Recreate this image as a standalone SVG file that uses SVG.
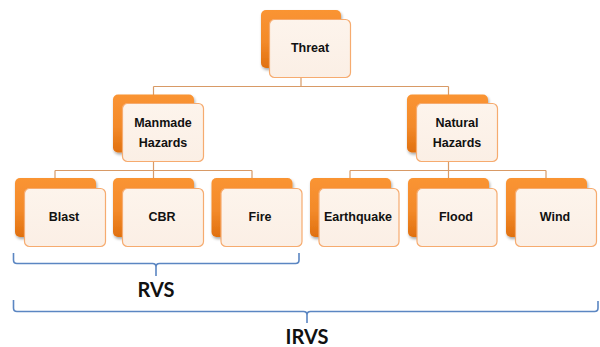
<svg xmlns="http://www.w3.org/2000/svg" width="600" height="347" viewBox="0 0 600 347">
<defs>
<linearGradient id="og" x1="0" y1="0" x2="0" y2="1">
<stop offset="0" stop-color="#fa9433"/>
<stop offset="0.55" stop-color="#f38a2a"/>
<stop offset="1" stop-color="#e0700f"/>
</linearGradient>
<linearGradient id="fg" x1="0" y1="0" x2="0" y2="1">
<stop offset="0" stop-color="#fdf4ec"/>
<stop offset="1" stop-color="#fbefe5"/>
</linearGradient>
<filter id="sh" x="-20%" y="-20%" width="150%" height="150%">
<feGaussianBlur in="SourceAlpha" stdDeviation="1.5"/>
<feOffset dx="1" dy="2" result="b"/>
<feComponentTransfer><feFuncA type="linear" slope="0.35"/></feComponentTransfer>
<feMerge><feMergeNode/><feMergeNode in="SourceGraphic"/></feMerge>
</filter>
</defs>
<style>
.back{fill:url(#og);filter:url(#sh)}
.front{fill:url(#fg);stroke:#f6ab6f;stroke-width:1.2}
.lbl{font-family:"Liberation Sans",Arial,sans-serif;font-weight:bold;font-size:12.5px;fill:#111;text-anchor:middle}
.con{fill:none;stroke:#d89a66;stroke-width:1.2}
.br{fill:none;stroke:#5b86c2;stroke-width:1.6;stroke-linejoin:round}
.big{font-family:Lato,"Liberation Sans",sans-serif;font-weight:bold;font-size:20px;fill:#111;text-anchor:middle}
</style>
<g id="connectors">
<path class="con" d="M301 77V86.5M153.5 86.5H448.5M153.5 86.5V103M448.5 86.5V103"/>
<path class="con" d="M153.5 162V170.5M55 170.5H252M55 170.5V178M153.5 170.5V178M252 170.5V178"/>
<path class="con" d="M448.5 162V170.5M350 170.5H546M350 170.5V178M448.5 170.5V178M546 170.5V178"/>
</g>
<g id="threat">
<rect class="back" x="261" y="10" width="80" height="58" rx="5"/>
<rect class="front" x="269.5" y="19.5" width="81" height="58" rx="5"/>
<text class="lbl" x="310" y="52">Threat</text>
</g>
<g id="manmade">
<rect class="back" x="113" y="94.5" width="81" height="58" rx="5"/>
<rect class="front" x="122.5" y="103.5" width="81" height="58" rx="5"/>
<text class="lbl" x="163" y="127">Manmade</text>
<text class="lbl" x="163" y="147">Hazards</text>
</g>
<g id="natural">
<rect class="back" x="407" y="94.5" width="81" height="58" rx="5"/>
<rect class="front" x="416.5" y="103.5" width="81" height="58" rx="5"/>
<text class="lbl" x="457" y="127">Natural</text>
<text class="lbl" x="457" y="147">Hazards</text>
</g>
<g id="blast">
<rect class="back" x="15" y="178" width="81" height="59" rx="5"/>
<rect class="front" x="24.5" y="188.5" width="81" height="58" rx="5"/>
<text class="lbl" x="64" y="221">Blast</text>
</g>
<g id="cbr">
<rect class="back" x="113" y="178" width="81" height="59" rx="5"/>
<rect class="front" x="122.5" y="188.5" width="81" height="58" rx="5"/>
<text class="lbl" x="162" y="221">CBR</text>
</g>
<g id="fire">
<rect class="back" x="211.5" y="178" width="81" height="59" rx="5"/>
<rect class="front" x="221" y="188.5" width="81" height="58" rx="5"/>
<text class="lbl" x="260" y="221">Fire</text>
</g>
<g id="earthquake">
<rect class="back" x="310" y="178" width="81" height="59" rx="5"/>
<rect class="front" x="319" y="188.5" width="80" height="58" rx="5"/>
<text class="lbl" x="358" y="221">Earthquake</text>
</g>
<g id="flood">
<rect class="back" x="408" y="178" width="81" height="59" rx="5"/>
<rect class="front" x="417" y="188.5" width="80" height="58" rx="5"/>
<text class="lbl" x="456" y="221">Flood</text>
</g>
<g id="wind">
<rect class="back" x="506" y="178" width="81" height="59" rx="5"/>
<rect class="front" x="515.5" y="188.5" width="81" height="58" rx="5"/>
<text class="lbl" x="555" y="221">Wind</text>
</g>
<g id="rvs">
<path class="br" d="M13.5 253V260Q13.5 263.5 17 263.5H152.5Q156 263.5 156 267V276M156 267Q156 263.5 159.5 263.5H295.5Q299 263.5 299 260V253"/>
<text class="big" x="156" y="297">RVS</text>
</g>
<g id="irvs">
<path class="br" d="M13.5 300V308Q13.5 311.5 17 311.5H303.5Q307 311.5 307 315V323M307 315Q307 311.5 310.5 311.5H594.5Q598 311.5 598 308V301"/>
<text class="big" x="307" y="344">IRVS</text>
</g>
</svg>
